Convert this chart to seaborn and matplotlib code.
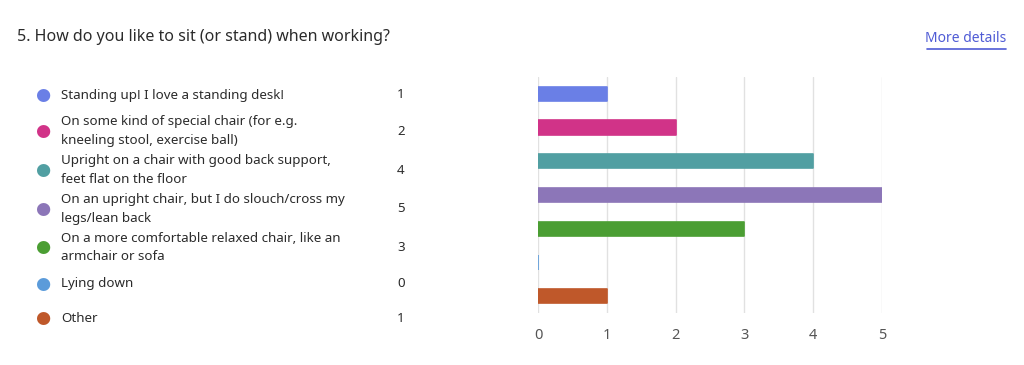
import matplotlib
matplotlib.use("Agg")
import matplotlib.pyplot as plt
import seaborn as sns
import pandas as pd

title = "5. How do you like to sit (or stand) when working?"
link_text = "More details"
categories = [
    "Standing up! I love a standing desk!",
    "On some kind of special chair (for e.g.\nkneeling stool, exercise ball)",
    "Upright on a chair with good back support,\nfeet flat on the floor",
    "On an upright chair, but I do slouch/cross my\nlegs/lean back",
    "On a more comfortable relaxed chair, like an\narmchair or sofa",
    "Lying down",
    "Other",
]
counts = [1, 2, 4, 5, 3, 0, 1]
colors = ["#6A7FE6", "#D13388", "#519FA2", "#8C76B8", "#4B9E33", "#5B9BDA", "#BF582A"]
x_ticks = [0, 1, 2, 3, 4, 5]

sns.set_theme(style="white")
plt.rcParams["font.family"] = ["Noto Sans", "DejaVu Sans"]

W, H = 1024, 365
fig = plt.figure(figsize=(W / 100, H / 100), dpi=100)
fig.patch.set_facecolor("white")

ax = fig.add_axes([538 / W, 1 - 313 / H, 344 / W, 236 / H])
df = pd.DataFrame({"cat": categories, "n": counts})
sns.barplot(data=df, y="cat", x="n", hue="cat", palette=colors, orient="h",
            width=0.42, saturation=1, legend=False, ax=ax, zorder=3)
for p, c in zip(ax.patches, colors):
    p.set_edgecolor(c)
    p.set_linewidth(1.2)
    p.set_joinstyle("round")

ax.set_xlim(0, 5)
ax.set_ylim(6.5, -0.5)
ax.set_xticks(x_ticks)
ax.set_yticks([])
ax.set_xlabel("")
ax.set_ylabel("")
ax.grid(axis="x", color="#E1E1E1", linewidth=1, zorder=0)
ax.tick_params(axis="x", length=0, labelsize=10.5, labelcolor="#555555", pad=11)
for s in ax.spines.values():
    s.set_visible(False)

# title and link
fig.text(17 / W, 1 - 37 / H, title, fontsize=11.5, color="#2B2B2B", va="center", ha="left")
fig.text(1006 / W, 1 - 39 / H, link_text, fontsize=10, color="#4F5BD5",
         va="center", ha="right")
fig.add_artist(plt.Line2D([927 / W, 1006 / W], [1 - 49 / H, 1 - 49 / H],
                          color="#4F5BD5", linewidth=1.2))

# left legend list
y = 95.0
prev_lines = None
for cat, n, c in zip(categories, counts, colors):
    nl = cat.count("\n") + 1
    if prev_lines is not None:
        y += 29.5 + 2.3 * (prev_lines + nl)
    fy = 1 - y / H
    fig.text(43 / W, fy, "\u25CF", color=c, fontsize=12.5, ha="center", va="center",
             family=["DejaVu Sans"])
    fig.text(61 / W, fy, cat, fontsize=9.6, color="#2B2B2B", ha="left", va="center",
             linespacing=1.6)
    fig.text(401 / W, fy, str(n), fontsize=9.6, color="#2B2B2B", ha="center", va="center")
    prev_lines = nl

fig.savefig("out.png", dpi=100, facecolor="white")
